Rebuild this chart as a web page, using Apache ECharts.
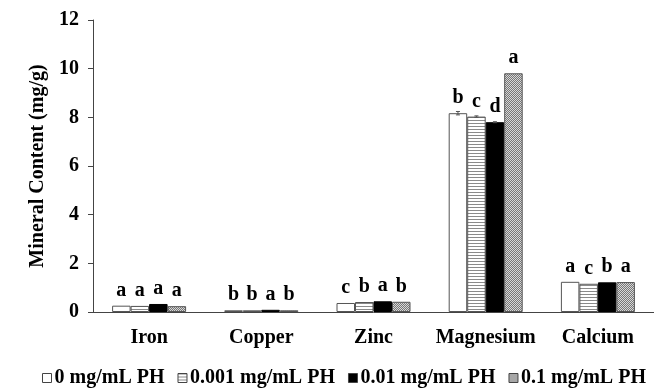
<!DOCTYPE html>
<html>
<head>
<meta charset="utf-8">
<script src="https://cdn.jsdelivr.net/npm/echarts@6/dist/echarts.min.js"></script>
<style>html,body{margin:0;padding:0;background:#fff}#c{width:654px;height:388px}</style>
</head>
<body>
<div id="c"></div>
<script>
var categories = ['Iron', 'Copper', 'Zinc', 'Magnesium', 'Calcium'];
var seriesNames = ['0 mg/mL PH', '0.001 mg/mL PH', '0.01 mg/mL PH', '0.1 mg/mL PH'];
var values0 = [0.26, 0.07, 0.37, 8.17, 1.24];
var values001 = [0.25, 0.07, 0.41, 8.03, 1.16];
var values01 = [0.33, 0.09, 0.44, 7.80, 1.22];
var values1 = [0.24, 0.07, 0.42, 9.81, 1.23];
var errors0 = [0, 0, 0, 0.07, 0];
var errors001 = [0, 0, 0, 0.03, 0];
var errors01 = [0, 0, 0, 0.02, 0];
var errors1 = [0, 0, 0, 0, 0];
var letters0 = ['a', 'b', 'c', 'b', 'a'];
var letters001 = ['a', 'b', 'b', 'c', 'c'];
var letters01 = ['a', 'a', 'a', 'd', 'b'];
var letters1 = ['a', 'b', 'b', 'a', 'a'];
var yTicks = [0, 2, 4, 6, 8, 10, 12];

function makePattern(type) {
  var c = document.createElement('canvas');
  var g;
  if (type === 'stripe') {
    c.width = 4; c.height = 3;
    g = c.getContext('2d');
    g.fillStyle = '#ffffff'; g.fillRect(0, 0, 4, 3);
    g.fillStyle = '#8a8a8a'; g.fillRect(0, 0, 4, 1);
  } else {
    c.width = 4; c.height = 4;
    g = c.getContext('2d');
    g.fillStyle = '#d8d8d8'; g.fillRect(0, 0, 4, 4);
    g.fillStyle = '#777777';
    for (var i = 0; i < 4; i++) { g.fillRect(i % 4, 3 - i, 1, 1); g.fillRect((i + 2) % 4, 3 - i, 1, 1); }
  }
  return { image: c, repeat: 'repeat' };
}

var fills = ['#ffffff', makePattern('stripe'), '#000000', makePattern('hatch')];
var allValues = [values0, values001, values01, values1];
var allErrors = [errors0, errors001, errors01, errors1];
var allLetters = [letters0, letters001, letters01, letters1];
var font = 'Liberation Serif';
var BAR_W = 18.5;

var chart = echarts.init(document.getElementById('c'));
var series = seriesNames.map(function (name, si) {
  return {
    name: name,
    type: 'bar',
    data: allValues[si],
    barWidth: BAR_W,
    barGap: '0%',
    itemStyle: { color: fills[si], borderColor: si === 2 ? '#000' : '#555', borderWidth: 1 },
    label: {
      show: true, position: 'top', distance: 5,
      fontFamily: font, fontWeight: 'bold', fontSize: 20, color: '#000',
      formatter: function (p) { return allLetters[si][p.dataIndex]; }
    }
  };
});

seriesNames.forEach(function (name, si) {
  var errData = allValues[si].map(function (v, i) { return [i, v - allErrors[si][i], v + allErrors[si][i]]; });
  series.push({
    type: 'custom',
    silent: true,
    legendHoverLink: false,
    z: 5,
    data: errData,
    renderItem: function (params, api) {
      var lo = api.coord([api.value(0), api.value(1)]);
      var hi = api.coord([api.value(0), api.value(2)]);
      if (Math.abs(hi[1] - lo[1]) < 0.5) return null;
      var x = lo[0] + (si - 1.5) * BAR_W;
      var w = 2;
      var st = { stroke: '#555', lineWidth: 1 };
      return {
        type: 'group', children: [
          { type: 'line', shape: { x1: x, y1: lo[1], x2: x, y2: hi[1] }, style: st },
          { type: 'line', shape: { x1: x - w, y1: lo[1], x2: x + w, y2: lo[1] }, style: st },
          { type: 'line', shape: { x1: x - w, y1: hi[1], x2: x + w, y2: hi[1] }, style: st }
        ]
      };
    }
  });
});

chart.setOption({
  backgroundColor: '#fff',
  animation: false,
  grid: { left: 93, right: -5, top: 20, bottom: 76 },
  legend: {
    top: 363, left: 37,
    itemWidth: 9, itemHeight: 9, itemGap: 13,
    icon: 'rect',
    textStyle: { fontFamily: font, fontWeight: 'bold', fontSize: 20, color: '#000', padding: [0, 0, 0, -2] },
    itemStyle: { borderColor: '#444', borderWidth: 1 },
    data: seriesNames
  },
  xAxis: {
    type: 'category', data: categories,
    axisLine: { lineStyle: { color: '#444', width: 1 } },
    axisTick: { show: false },
    axisLabel: { interval: 0, hideOverlap: false, fontFamily: font, fontWeight: 'bold', fontSize: 20, color: '#000', margin: 16 }
  },
  yAxis: {
    type: 'value', min: 0, max: 12, interval: 2,
    name: 'Mineral Content (mg/g)', nameLocation: 'middle', nameGap: 44,
    nameTextStyle: { fontFamily: font, fontWeight: 'bold', fontSize: 20, color: '#000' },
    splitLine: { show: false },
    axisLine: { show: true, lineStyle: { color: '#444', width: 1 } },
    axisTick: { show: true, length: 5, lineStyle: { color: '#444' } },
    axisLabel: {
      fontFamily: font, fontWeight: 'bold', fontSize: 20, color: '#000', margin: 14,
      formatter: function (v) { return yTicks.indexOf(v) >= 0 ? String(v) : ''; }
    }
  },
  series: series
});
</script>
</body>
</html>
